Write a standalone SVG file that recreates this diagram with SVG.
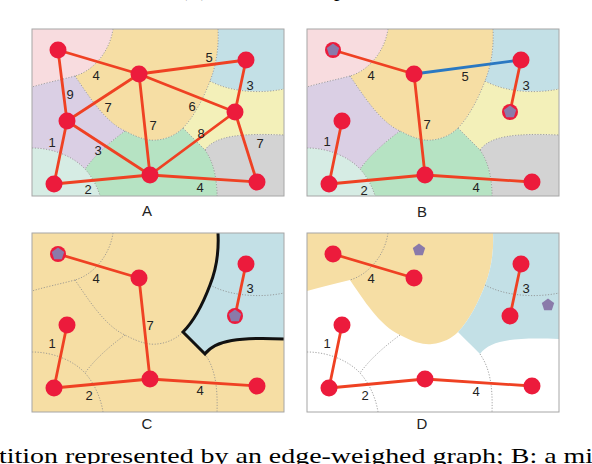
<svg xmlns="http://www.w3.org/2000/svg" width="592" height="464" viewBox="0 0 592 464">
<style>
.edge{stroke:#ef4123;stroke-width:2.8;stroke-linecap:round;fill:none}
.blue{stroke:#2a78c2}
.dot{fill:none;stroke:#8c8c8c;stroke-width:0.8;stroke-dasharray:1.2 1.6}
.node{fill:#ec1b3c}
.pent{fill:#8a7aaa}
.el{font-family:"Liberation Sans",Arial,sans-serif;font-size:13px;fill:#222;text-anchor:middle}
.pl{font-family:"Liberation Sans",Arial,sans-serif;font-size:15px;fill:#222;text-anchor:middle}
.cap{font-family:"Liberation Serif","Times New Roman",serif;font-size:22px;fill:#000}
.frame{fill:none;stroke:#a6a6a6;stroke-width:1}
</style>
<defs>
<clipPath id="clipAB"><rect x="32" y="29" width="252" height="167"/></clipPath>
<path id="r-pink" d="M32,29 H113 C110,50 95,70 75,76 C60,80 45,83 32,87 Z" fill="#f8dcdf"/>
<path id="r-peach" d="M113,29 H218 C219,48 216,66 210,81 C204,97 194,117 183,128 C177,134 168,139 157,140 C150,141 140,139 125,131 C105,122 88,95 75,76 C95,70 110,50 113,29 Z" fill="#f6dea4"/>
<path id="r-blue" d="M218,29 H284 V89 C260,94 230,92 210,81 C216,66 219,48 218,29 Z" fill="#c3e0e6"/>
<path id="r-yellow" d="M210,81 C230,92 260,94 284,89 V135 C240,133 215,136 205,150 C198,143 190,135 183,128 C194,117 204,97 210,81 Z" fill="#f3f0b9"/>
<path id="r-gray" d="M205,150 C215,136 240,133 284,135 V208 H217 C218,180 214,163 205,150 Z" fill="#d3d3d3"/>
<path id="r-green" d="M125,131 C140,139 150,141 157,140 C168,139 177,134 183,128 C190,135 198,143 205,150 C214,163 218,180 217,208 H103 C101,195 95,180 85,169 C95,155 110,142 125,131 Z" fill="#b6e3c3"/>
<path id="r-mint" d="M32,148 C55,148 75,158 85,169 C95,180 101,195 103,208 H32 Z" fill="#d6ece4"/>
<path id="r-lav" d="M32,87 C45,83 60,80 75,76 C88,95 105,122 125,131 C110,142 95,155 85,169 C75,158 55,148 32,148 Z" fill="#dacfe4"/>
<path id="r-bigblue" d="M218,29 H284 V135 C240,133 215,136 205,150 C198,143 190,135 183,128 C194,117 204,97 210,81 C216,66 219,48 218,29 Z" fill="#c3e0e6"/>
<path id="r-bigpeach" d="M32,29 H218 C219,48 216,66 210,81 C204,97 194,117 183,128 C177,134 168,139 157,140 C150,141 140,139 125,131 C105,122 88,95 75,76 C60,80 45,83 32,87 Z" fill="#f6dea4"/>
<path id="b-P1" class="dot" d="M113,29 C110,50 95,70 75,76"/>
<path id="b-P2" class="dot" d="M75,76 C60,80 45,83 32,87"/>
<path id="b-L" class="dot" d="M75,76 C88,95 105,122 125,131 C140,139 150,141 157,140 C168,139 177,134 183,128"/>
<path id="b-R" class="dot" d="M218,29 C219,48 216,66 210,81 C204,97 194,117 183,128"/>
<path id="b-B" class="dot" d="M210,81 C230,92 260,94 284,89"/>
<path id="b-GY" class="dot" d="M183,128 C190,135 198,143 205,150"/>
<path id="b-GT" class="dot" d="M205,150 C215,136 240,133 284,135"/>
<path id="b-GR" class="dot" d="M205,150 C214,163 218,180 217,208"/>
<path id="b-M" class="dot" d="M32,148 C55,148 75,158 85,169 C95,180 101,195 103,208"/>
<path id="b-GL" class="dot" d="M125,131 C110,142 95,155 85,169"/>
<polygon id="pent" points="0,-6.5 6.18,-2.01 3.82,5.26 -3.82,5.26 -6.18,-2.01"/>
</defs>

<text class="cap" x="180" y="-4" textLength="28">(a)</text>
<text class="cap" x="334" y="-4">p</text>

<!-- Panel A -->
<g id="panelA">
<g clip-path="url(#clipAB)">
<use href="#r-peach"/><use href="#r-pink"/><use href="#r-blue"/><use href="#r-yellow"/><use href="#r-gray"/><use href="#r-green"/><use href="#r-mint"/><use href="#r-lav"/>
<use href="#b-P1"/><use href="#b-P2"/><use href="#b-L"/><use href="#b-R"/><use href="#b-B"/><use href="#b-GY"/><use href="#b-GT"/><use href="#b-GR"/><use href="#b-M"/><use href="#b-GL"/>
</g>
<rect class="frame" x="32" y="29" width="252" height="167"/>
<g id="A-edges">
<line class="edge" x1="58" y1="50" x2="139" y2="74"/>
<line class="edge" x1="58" y1="50" x2="67" y2="121"/>
<line class="edge" x1="139" y1="74" x2="67" y2="121"/>
<line class="edge" x1="139" y1="74" x2="246" y2="60"/>
<line class="edge" x1="139" y1="74" x2="235" y2="112"/>
<line class="edge" x1="139" y1="74" x2="150" y2="175"/>
<line class="edge" x1="246" y1="60" x2="235" y2="112"/>
<line class="edge" x1="67" y1="121" x2="150" y2="175"/>
<line class="edge" x1="67" y1="121" x2="54" y2="184"/>
<line class="edge" x1="54" y1="184" x2="150" y2="175"/>
<line class="edge" x1="150" y1="175" x2="235" y2="112"/>
<line class="edge" x1="150" y1="175" x2="257" y2="182"/>
<line class="edge" x1="235" y1="112" x2="257" y2="182"/>
<text class="el" x="96" y="79.5">4</text>
<text class="el" x="209" y="61.5">5</text>
<text class="el" x="250" y="89.5">3</text>
<text class="el" x="70" y="98.5">9</text>
<text class="el" x="108" y="111.5">7</text>
<text class="el" x="192" y="110.5">6</text>
<text class="el" x="153" y="129.5">7</text>
<text class="el" x="201" y="137.5">8</text>
<text class="el" x="52" y="146.5">1</text>
<text class="el" x="98" y="154.5">3</text>
<text class="el" x="260" y="147.5">7</text>
<text class="el" x="88" y="194">2</text>
<text class="el" x="200" y="192">4</text>
</g>
<g id="A-n1"><circle class="node" cx="58" cy="50" r="8.5"/></g>
<g id="A-n2"><circle class="node" cx="139" cy="74" r="8.5"/></g>
<g id="A-n3"><circle class="node" cx="246" cy="60" r="8.5"/></g>
<g id="A-n4"><circle class="node" cx="67" cy="121" r="8.5"/></g>
<g id="A-n5"><circle class="node" cx="235" cy="112" r="8.5"/></g>
<g id="A-n6"><circle class="node" cx="54" cy="184" r="8.5"/></g>
<g id="A-n7"><circle class="node" cx="150" cy="175" r="8.5"/></g>
<g id="A-n8"><circle class="node" cx="257" cy="182" r="8.5"/></g>
</g>
<text class="pl" x="147" y="216">A</text>

<!-- Panel B -->
<g id="panelB" transform="translate(275,0)">
<g clip-path="url(#clipAB)">
<use href="#r-peach"/><use href="#r-pink"/><use href="#r-blue"/><use href="#r-yellow"/><use href="#r-gray"/><use href="#r-green"/><use href="#r-mint"/><use href="#r-lav"/>
<use href="#b-P1"/><use href="#b-P2"/><use href="#b-L"/><use href="#b-R"/><use href="#b-B"/><use href="#b-GY"/><use href="#b-GT"/><use href="#b-GR"/><use href="#b-M"/><use href="#b-GL"/>
</g>
<rect class="frame" x="32" y="29" width="252" height="167"/>
<g id="B-edges">
<line class="edge" x1="58" y1="50" x2="139" y2="74"/>
<line class="edge blue" x1="139" y1="74" x2="246" y2="60"/>
<line class="edge" x1="139" y1="74" x2="150" y2="175"/>
<line class="edge" x1="246" y1="60" x2="235" y2="112"/>
<line class="edge" x1="67" y1="121" x2="54" y2="184"/>
<line class="edge" x1="54" y1="184" x2="150" y2="175"/>
<line class="edge" x1="150" y1="175" x2="257" y2="182"/>
<text class="el" x="96" y="79.5">4</text>
<text class="el" x="190" y="80.5">5</text>
<text class="el" x="251" y="89.5">3</text>
<text class="el" x="152" y="128.5">7</text>
<text class="el" x="52" y="145.5">1</text>
<text class="el" x="89" y="194.5">2</text>
<text class="el" x="201" y="192">4</text>
</g>
<g id="B-n1"><circle class="node" cx="58" cy="50" r="8"/><use href="#pent" class="pent" x="58" y="50"/></g>
<g id="B-n2"><circle class="node" cx="139" cy="74" r="8.5"/></g>
<g id="B-n3"><circle class="node" cx="246" cy="60" r="8.5"/></g>
<g id="B-n4"><circle class="node" cx="67" cy="121" r="8.5"/></g>
<g id="B-n5"><circle class="node" cx="235" cy="112" r="8"/><use href="#pent" class="pent" x="235" y="112"/></g>
<g id="B-n6"><circle class="node" cx="54" cy="184" r="8.5"/></g>
<g id="B-n7"><circle class="node" cx="150" cy="175" r="8.5"/></g>
<g id="B-n8"><circle class="node" cx="257" cy="182" r="8.5"/></g>
</g>
<text class="pl" x="422" y="217">B</text>

<!-- Panel C -->
<g id="panelC" transform="translate(0,204)">
<rect x="32" y="29" width="252" height="179" fill="#f6dea4"/>
<use href="#r-bigblue"/>
<use href="#b-P1"/><use href="#b-P2"/><use href="#b-L"/><use href="#b-B"/><use href="#b-GR"/><use href="#b-M"/><use href="#b-GL"/>
<path d="M218,29 C219,48 216,66 210,81 C204,97 194,117 183,128 C190,135 198,143 205,150 C215,136 240,133 284,135" fill="none" stroke="#111" stroke-width="3" stroke-linejoin="miter"/>
<rect class="frame" x="32" y="29" width="252" height="179"/>
<g id="C-edges">
<line class="edge" x1="58" y1="50" x2="139" y2="74"/>
<line class="edge" x1="139" y1="74" x2="150" y2="175"/>
<line class="edge" x1="246" y1="60" x2="235" y2="112"/>
<line class="edge" x1="67" y1="121" x2="54" y2="184"/>
<line class="edge" x1="54" y1="184" x2="150" y2="175"/>
<line class="edge" x1="150" y1="175" x2="257" y2="182"/>
<text class="el" x="96" y="78.5">4</text>
<text class="el" x="250" y="88.5">3</text>
<text class="el" x="150" y="125.5">7</text>
<text class="el" x="52" y="143.5">1</text>
<text class="el" x="89" y="195.5">2</text>
<text class="el" x="200" y="190.5">4</text>
</g>
<g id="C-n1"><circle class="node" cx="58" cy="50" r="8"/><use href="#pent" class="pent" x="58" y="50"/></g>
<g id="C-n2"><circle class="node" cx="139" cy="74" r="8.5"/></g>
<g id="C-n3"><circle class="node" cx="246" cy="60" r="8.5"/></g>
<g id="C-n4"><circle class="node" cx="67" cy="121" r="8.5"/></g>
<g id="C-n5"><circle class="node" cx="235" cy="112" r="8"/><use href="#pent" class="pent" x="235" y="112"/></g>
<g id="C-n6"><circle class="node" cx="54" cy="184" r="8.5"/></g>
<g id="C-n7"><circle class="node" cx="150" cy="175" r="8.5"/></g>
<g id="C-n8"><circle class="node" cx="257" cy="182" r="8.5"/></g>
</g>
<text class="pl" x="147" y="429">C</text>

<!-- Panel D -->
<g id="panelD" transform="translate(275,204)">
<rect x="32" y="29" width="252" height="179" fill="#ffffff"/>
<use href="#r-bigpeach"/><use href="#r-bigblue"/>
<use href="#b-P1"/><use href="#b-B"/><use href="#b-GR"/><use href="#b-M"/><use href="#b-GL"/>
<rect class="frame" x="32" y="29" width="252" height="179"/>
<g id="D-edges">
<line class="edge" x1="58" y1="50" x2="139" y2="74"/>
<line class="edge" x1="246" y1="60" x2="235" y2="112"/>
<line class="edge" x1="67" y1="121" x2="54" y2="184"/>
<line class="edge" x1="54" y1="184" x2="150" y2="175"/>
<line class="edge" x1="150" y1="175" x2="257" y2="182"/>
<text class="el" x="96" y="78.5">4</text>
<text class="el" x="251" y="88.5">3</text>
<text class="el" x="52" y="143.5">1</text>
<text class="el" x="90" y="195.5">2</text>
<text class="el" x="201" y="191.5">4</text>
</g>
<g id="D-p1"><use href="#pent" class="pent" x="144" y="46"/></g>
<g id="D-p2"><use href="#pent" class="pent" x="273" y="101"/></g>
<g id="D-n1"><circle class="node" cx="58" cy="50" r="8.5"/></g>
<g id="D-n2"><circle class="node" cx="139" cy="74" r="8.5"/></g>
<g id="D-n3"><circle class="node" cx="246" cy="60" r="8.5"/></g>
<g id="D-n4"><circle class="node" cx="67" cy="121" r="8.5"/></g>
<g id="D-n5"><circle class="node" cx="235" cy="112" r="8.5"/></g>
<g id="D-n6"><circle class="node" cx="54" cy="184" r="8.5"/></g>
<g id="D-n7"><circle class="node" cx="150" cy="175" r="8.5"/></g>
<g id="D-n8"><circle class="node" cx="257" cy="182" r="8.5"/></g>
</g>
<text class="pl" x="422" y="429">D</text>

<text class="cap" x="-1" y="463" textLength="594" lengthAdjust="spacingAndGlyphs">tition represented by an edge-weighed graph; B: a mi</text>
</svg>
